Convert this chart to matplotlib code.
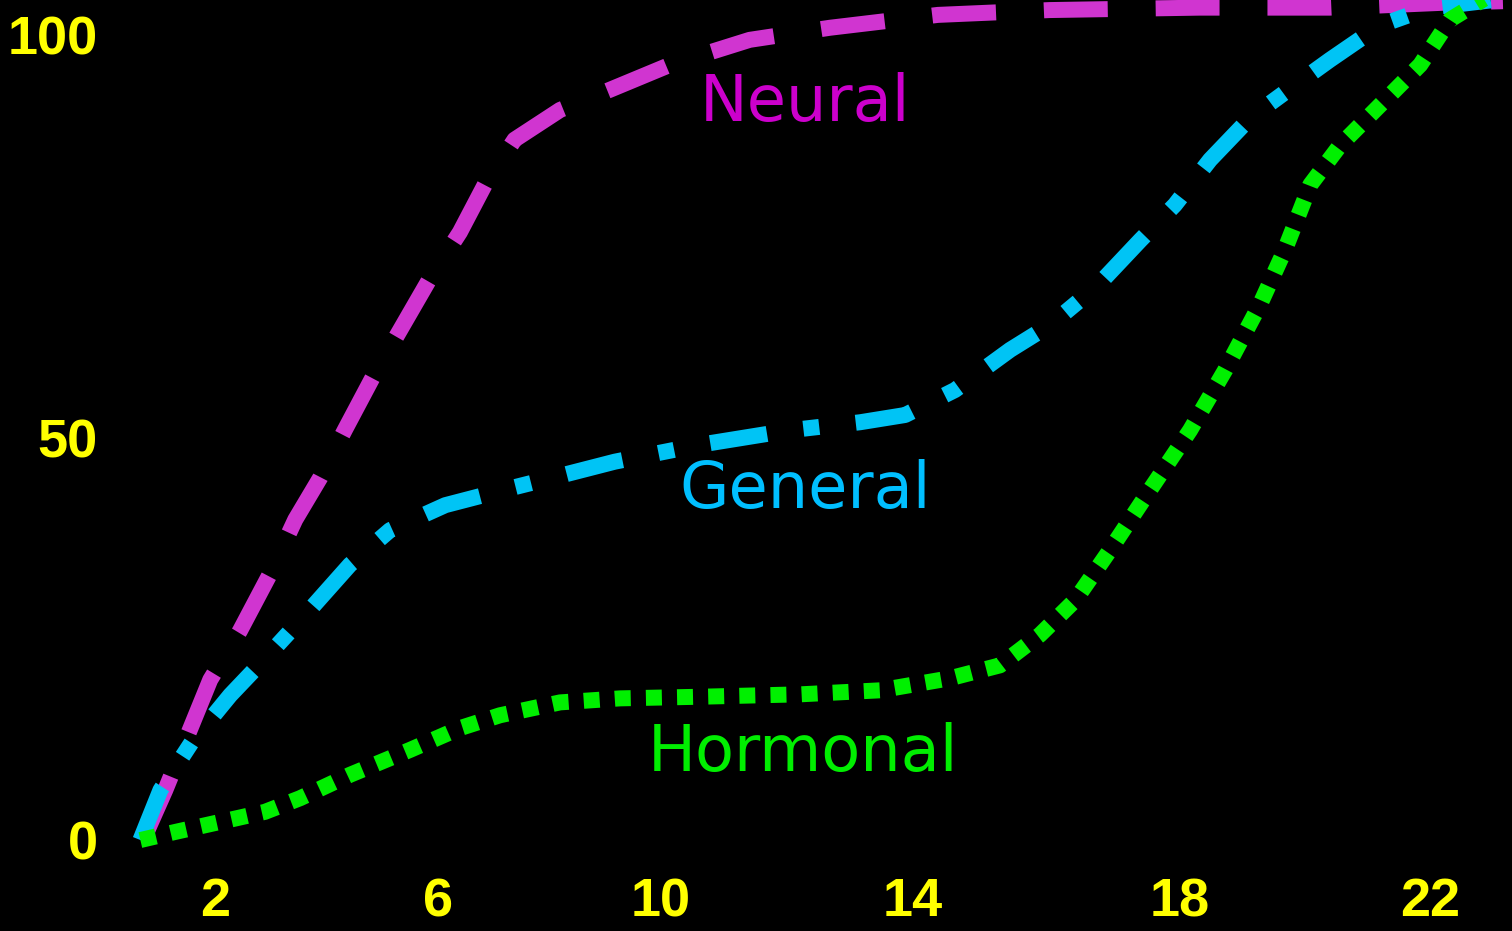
import matplotlib.pyplot as plt

# age in years vs. size as % of adult value
neural_x = [0.85, 1.18, 1.92, 2.41, 2.9, 3.32, 3.73, 4.14, 4.59, 5.05, 5.54, 6.03, 6.44,
            6.93, 7.68, 8.5, 9.49, 10.8, 12.12, 13.9, 15.74, 18.2, 20.35, 22.2, 23.2]
neural_y = [0.6, 6.2, 19.9, 26, 33, 39.8, 45, 51, 57.4, 63.4, 69.8, 75.5, 81.4,
            87, 90.7, 93.2, 96.3, 99.4, 100.9, 102.5, 103.1, 103.4, 103.4, 104, 104.2]

general_x = [0.77, 1.1, 1.62, 2.25, 2.83, 3.56, 4.22, 4.88, 5.79, 6.86, 7.6, 8.58, 9.98,
             11.46, 12.62, 13.36, 14.18, 15.09, 15.75, 16.53, 17.23, 17.8, 18.38, 19.04,
             19.78, 20.35, 21.18, 22.0, 23.0]
general_y = [0, 6.2, 12.2, 18, 22.6, 28.6, 34.2, 38.5, 41.6, 43.7, 45.1, 47, 49.1,
             50.9, 51.9, 52.8, 55.9, 60.9, 64, 68.9, 74.5, 78.9, 84.5, 89.7,
             93.8, 96.9, 101.2, 103.4, 104.3]

hormonal_x = [0.77, 1.34, 2.35, 2.82, 3.4, 4.22, 5.21, 6.03, 6.69, 7.68, 8.67, 9.98, 11.63,
              12.95, 14.1, 14.92, 15.58, 16.16, 16.73, 17.39, 18.05, 18.63, 19.2, 19.61,
              20.03, 20.52, 21.18, 21.84, 22.33, 23.0]
hormonal_y = [0, 1, 2.7, 3.5, 5.2, 8.1, 11.2, 13.9, 15.5, 17.1, 17.6, 17.8, 18.1,
              18.6, 20.1, 21.7, 25.5, 29.8, 36, 43.5, 50.9, 58.4, 66.5, 73.3,
              81.4, 86.3, 91.3, 96.3, 101.9, 105]

# the original tick marks are not evenly spaced
x_tick_pos = [2, 5.67, 9.34, 13.49, 17.88, 22]
x_tick_labels = ["2", "6", "10", "14", "18", "22"]
y_ticks = [0, 50, 100]

fig = plt.figure(figsize=(15.12, 9.31), dpi=100, facecolor="black")
ax = fig.add_axes([110 / 1512, 66 / 931, 1 - 110 / 1512, 1 - 66 / 931])
ax.set_facecolor("black")

lw = 11.5
ax.plot(neural_x, neural_y, color="#D035D0", lw=lw, dashes=(4, 3))
ax.plot(general_x, general_y, color="#00C4F5", lw=lw, dashes=(3.6, 2.3, 1, 2.3))
ax.plot(hormonal_x, hormonal_y, color="#00F000", lw=lw, dashes=(1, 0.95))

ax.text(11.71, 91.5, "Neural", color="#CC00CC", fontsize=46, ha="center", va="center",
        family="DejaVu Sans")
ax.text(11.71, 43.5, "General", color="#00BFFF", fontsize=46, ha="center", va="center",
        family="DejaVu Sans")
ax.text(11.68, 10.8, "Hormonal", color="#00EE00", fontsize=46, ha="center", va="center",
        family="DejaVu Sans")

ax.set_xlim(0.27, 23.35)
ax.set_ylim(-3.1, 104.35)
ax.set_xticks(x_tick_pos, x_tick_labels)
ax.set_yticks(y_ticks)
for lab in ax.get_xticklabels() + ax.get_yticklabels():
    lab.set_family("Liberation Sans")
    lab.set_fontweight("bold")
ax.tick_params(colors="yellow", labelsize=39, length=0, pad=9)
for s in ax.spines.values():
    s.set_visible(False)

fig.savefig("out.png", dpi=100, facecolor="black")
